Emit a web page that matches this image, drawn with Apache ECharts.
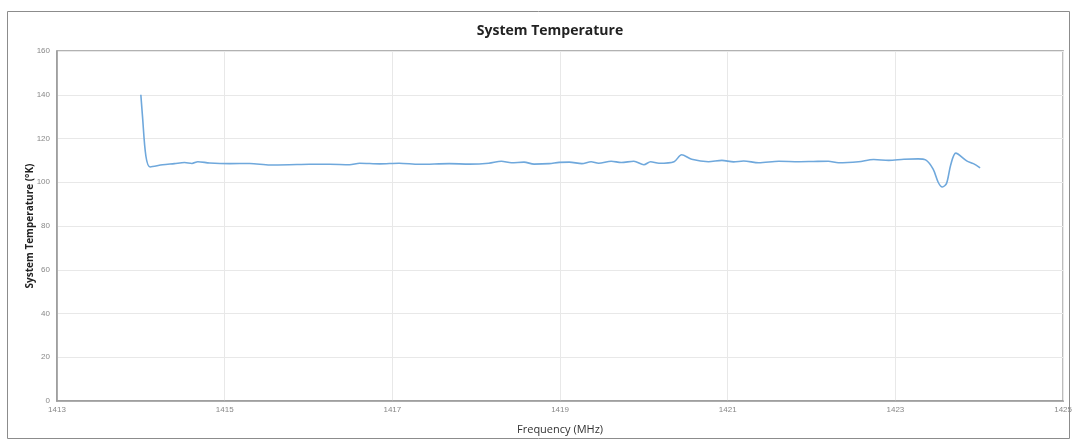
<!DOCTYPE html>
<html><head><meta charset="utf-8">
<script src="https://cdn.jsdelivr.net/npm/echarts@6/dist/echarts.min.js"></script>
<style>html,body{margin:0;padding:0;background:#fff}#c{width:1075px;height:441px}</style>
</head><body><div id="c"></div>
<script>
const freq = [1414.0,1414.02,1414.06,1414.11,1414.26,1414.40,1414.52,1414.61,1414.68,1414.82,1415.06,1415.30,1415.54,1415.77,1416.01,1416.25,1416.49,1416.61,1416.85,1417.08,1417.32,1417.68,1417.92,1418.15,1418.30,1418.42,1418.57,1418.69,1418.87,1418.99,1419.11,1419.26,1419.37,1419.46,1419.61,1419.73,1419.88,1420.00,1420.08,1420.18,1420.36,1420.45,1420.57,1420.77,1420.93,1421.07,1421.19,1421.37,1421.61,1421.85,1422.02,1422.20,1422.32,1422.56,1422.74,1422.92,1423.10,1423.27,1423.36,1423.45,1423.51,1423.56,1423.61,1423.66,1423.72,1423.85,1423.93,1424.01];
const temp = [140,130,112,107.0,108.0,108.5,109.0,108.6,109.4,108.8,108.5,108.6,107.9,108.0,108.2,108.2,108.0,108.7,108.4,108.7,108.2,108.5,108.3,108.7,109.6,108.9,109.2,108.3,108.5,109.1,109.2,108.5,109.4,108.7,109.6,109.0,109.6,108.0,109.4,108.7,109.4,112.6,110.5,109.4,110.0,109.3,109.7,108.9,109.6,109.4,109.5,109.6,108.9,109.4,110.4,110.0,110.5,110.7,110.2,106.0,100.0,97.8,99.5,108.0,113.3,109.8,108.5,106.6];
const xTicks = [1413,1415,1417,1419,1421,1423,1425];
const yTicks = [0,20,40,60,80,100,120,140,160];

const chart = echarts.init(document.getElementById('c'), null, {renderer:'canvas'});
chart.setOption({
  animation:false,
  backgroundColor:'#fff',
  title:{text:'System Temperature',left:545,top:19,textAlign:'center',
    textStyle:{fontFamily:'Open Sans',fontSize:14,fontWeight:'bold',color:'#222'}},
  graphic:[{type:'rect',shape:{x:7.5,y:11.5,width:1062,height:427},
    style:{fill:'none',stroke:'#8c8c8c',lineWidth:1},silent:true}],
  grid:{left:57,right:9,top:51,bottom:40,show:true,borderColor:'#999',borderWidth:1.5},
  xAxis:{type:'value',min:xTicks[0],max:xTicks[xTicks.length-1],interval:2,
    name:'Frequency (MHz)',nameLocation:'middle',nameGap:23,
    nameTextStyle:{fontFamily:'Open Sans',fontSize:11,color:'#333'},
    axisLine:{show:true,lineStyle:{color:'#999',width:1.5}},axisTick:{show:false},
    axisLabel:{fontSize:8,color:'#888',margin:5,formatter:v=>String(v)},
    splitLine:{show:true,lineStyle:{color:'#e8e8e8',width:1}}},
  yAxis:{type:'value',min:yTicks[0],max:yTicks[yTicks.length-1],interval:20,
    name:'System Temperature (\u00B0K)',nameLocation:'middle',nameGap:22,nameRotate:90,
    nameMoveOverlap:false,
    nameTextStyle:{fontFamily:'Open Sans',fontSize:10,fontWeight:'bold',color:'#222'},
    axisLine:{show:true,lineStyle:{color:'#999',width:1.5}},axisTick:{show:false},
    axisLabel:{fontSize:8,color:'#888',margin:7},
    splitLine:{show:true,lineStyle:{color:'#e8e8e8',width:1}}},
  series:[{type:'line',data:freq.map((f,i)=>[f,temp[i]]),showSymbol:false,smooth:0.3,
    lineStyle:{color:'#6fa8dc',width:1.6}}]
});
</script></body></html>
